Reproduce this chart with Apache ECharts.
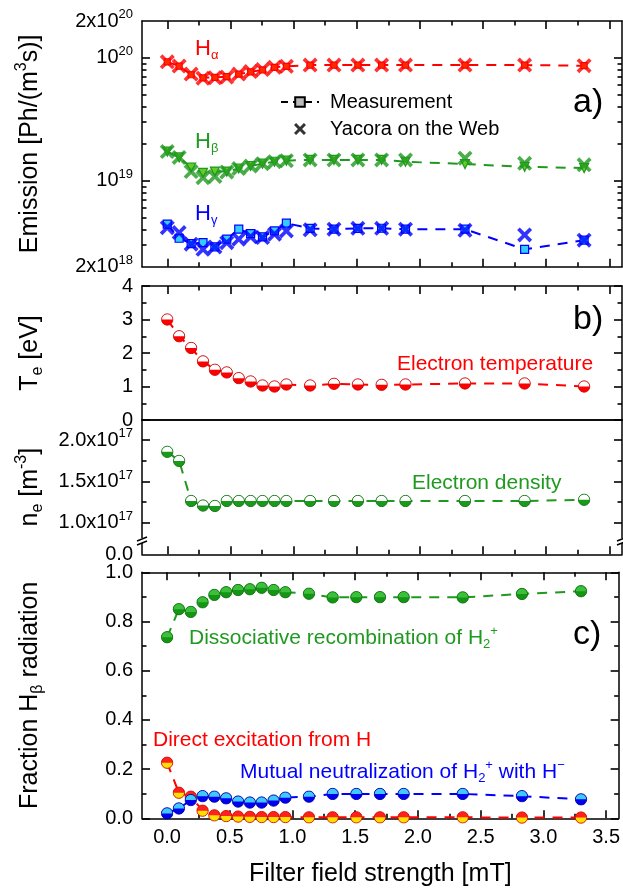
<!DOCTYPE html>
<html>
<head>
<meta charset="utf-8">
<script src="https://cdn.jsdelivr.net/npm/echarts@6/dist/echarts.min.js"></script>
<style>
  html, body { margin: 0; padding: 0; background: #fff; }
  #chart { width: 623px; height: 888px; }
</style>
</head>
<body>
<div id="chart"></div>
<script>
// filter field strength [mT]
const fieldX = [0, 0.094, 0.189, 0.283, 0.377, 0.471, 0.566, 0.66, 0.754, 0.849, 0.943, 1.131, 1.32, 1.509, 1.697, 1.886, 2.357, 2.829, 3.3]

// a) emission [Ph/(m^3 s)]
const haMeas = [9.3e19, 8.6e19, 7.3e19, 6.9e19, 6.95e19, 7.05e19, 7.4e19, 7.7e19, 8.0e19, 8.4e19, 8.55e19, 8.75e19, 8.75e19, 8.75e19, 8.75e19, 8.75e19, 8.75e19, 8.75e19, 8.65e19]
const haYacora = [9.3e19, 8.6e19, 7.4e19, 6.85e19, 6.9e19, 7.0e19, 7.4e19, 7.75e19, 8.05e19, 8.4e19, 8.55e19, 8.75e19, 8.75e19, 8.75e19, 8.75e19, 8.75e19, 8.75e19, 8.75e19, 8.65e19]
const hbMeas = [1.73e19, 1.55e19, 1.28e19, 1.16e19, 1.19e19, 1.19e19, 1.26e19, 1.32e19, 1.38e19, 1.43e19, 1.46e19, 1.48e19, 1.48e19, 1.48e19, 1.48e19, 1.43e19, 1.37e19, 1.30e19, 1.27e19]
const hbYacora = [1.73e19, 1.55e19, 1.19e19, 1.06e19, 1.085e19, 1.18e19, 1.26e19, 1.32e19, 1.38e19, 1.43e19, 1.46e19, 1.48e19, 1.48e19, 1.48e19, 1.48e19, 1.48e19, 1.53e19, 1.39e19, 1.35e19]
const hgMeas = [4.44e18, 3.41e18, 3.08e18, 3.14e18, 2.90e18, 3.35e18, 4.04e18, 3.72e18, 3.50e18, 3.91e18, 4.52e18, 4.1e18, 4.04e18, 4.1e18, 4.11e18, 4.04e18, 4.04e18, 2.77e18, 3.29e18]
const hgYacora = [4.16e18, 3.79e18, 3.05e18, 2.77e18, 2.90e18, 3.14e18, 3.35e18, 3.50e18, 3.45e18, 3.68e18, 3.91e18, 3.99e18, 4.04e18, 4.11e18, 4.11e18, 4.04e18, 3.96e18, 3.63e18, 3.29e18]

// b) electron temperature [eV] and density [1e17 m^-3]
const teValues = [3.0, 2.5, 2.15, 1.75, 1.5, 1.42, 1.25, 1.15, 1.03, 1.0, 1.06, 1.03, 1.08, 1.06, 1.05, 1.06, 1.09, 1.09, 1.0]
const neValues = [1.86, 1.75, 1.265, 1.21, 1.205, 1.265, 1.265, 1.265, 1.265, 1.265, 1.265, 1.265, 1.265, 1.265, 1.265, 1.265, 1.265, 1.265, 1.28]

// c) fraction of H_beta radiation
const fracDissoc = [0.736, 0.85, 0.839, 0.878, 0.908, 0.919, 0.928, 0.931, 0.937, 0.928, 0.919, 0.913, 0.898, 0.899, 0.899, 0.899, 0.898, 0.912, 0.923]
const fracDirect = [0.226, 0.104, 0.088, 0.031, 0.012, 0.009, 0.007, 0.006, 0.005, 0.005, 0.005, 0.004, 0.004, 0.004, 0.004, 0.004, 0.004, 0.003, 0.003]
const fracMutual = [0.02, 0.04, 0.074, 0.09, 0.088, 0.081, 0.068, 0.064, 0.064, 0.072, 0.084, 0.088, 0.099, 0.099, 0.099, 0.099, 0.099, 0.09, 0.077]

// ticks
const xMajor = [0, 0.5, 1, 1.5, 2, 2.5, 3, 3.5]
const xMinor = [0.25, 0.75, 1.25, 1.75, 2.25, 2.75, 3.25]
const emMajor = [1e19, 1e20]
const emLabels = [2.0000001e18, 1e19, 1e20, 1.9999999e20]
const emMinor = [3e18, 4e18, 5e18, 6e18, 7e18, 8e18, 9e18, 2e19, 3e19, 4e19, 5e19, 6e19, 7e19, 8e19, 9e19]
const teMajor = [0, 1, 2, 3, 4]
const teMinor = [0.5, 1.5, 2.5, 3.5]
const neZero = 0.62   // bottom of the broken axis, labelled 0.0
const neMajor = [1.0, 1.5, 2.0]
const neMinor = [1.25, 1.75]
const frMajor = [0, 0.2, 0.4, 0.6, 0.8, 1.0]
const frMinor = [0.1, 0.3, 0.5, 0.7, 0.9]

const FONT = '"Liberation Sans", Arial, sans-serif'
const RED = '#ff0000'
const GREEN = '#1f991f'
const BLUE = '#0000ff'
const DASH = [10, 8]
const MAJOR_LEN = 8
const MINOR_LEN = 4.5

const grids = [
  { left: 142, width: 480, top: 21, height: 245.7 },
  { left: 142, width: 480, top: 286, height: 134 },
  { left: 142, width: 480, top: 420, height: 134.3 },
  { left: 142, width: 480, top: 572.3, height: 246 }
]

const pts = ys => fieldX.map((x, i) => [x, ys[i]])

function tickAxis(base, ticks, len, showLine) {
  return Object.assign({}, base, {
    axisLine: { show: showLine, onZero: false, lineStyle: { color: '#000', width: 1.5 } },
    axisTick: { show: true, inside: true, length: len, customValues: ticks, lineStyle: { color: '#000', width: 1.6 } },
    axisLabel: { show: false },
    splitLine: { show: false }
  })
}

function xAxesFor(g, withLabels, bottomTicks, topTicks) {
  const base = { gridIndex: g, type: 'value', min: -0.2, max: 3.6 }
  const bottom = tickAxis(Object.assign({ position: 'bottom' }, base), bottomTicks ? xMajor : [], MAJOR_LEN, true)
  if (withLabels) {
    bottom.axisLabel = {
      show: true, customValues: xMajor, formatter: v => v.toFixed(1),
      fontSize: 20, fontFamily: FONT, color: '#000', margin: 9
    }
    bottom.name = 'Filter field strength [mT]'
    bottom.nameLocation = 'middle'
    bottom.nameGap = 43
    bottom.nameTextStyle = { fontSize: 25, fontFamily: FONT, color: '#000' }
  }
  return [
    bottom,
    tickAxis(Object.assign({ position: 'bottom' }, base), bottomTicks ? xMinor : [], MINOR_LEN, false),
    tickAxis(Object.assign({ position: 'top' }, base), topTicks ? xMajor : [], MAJOR_LEN, true),
    tickAxis(Object.assign({ position: 'top' }, base), topTicks ? xMinor : [], MINOR_LEN, false)
  ]
}

const supRich = {
  n: { fontSize: 20, fontFamily: FONT, color: '#000', lineHeight: 26 },
  sup: { fontSize: 13, fontFamily: FONT, color: '#000', lineHeight: 13, verticalAlign: 'top' }
}
const nameRich = {
  t: { fontSize: 25, fontFamily: FONT, color: '#000', lineHeight: 32 },
  sup: { fontSize: 16, fontFamily: FONT, color: '#000', lineHeight: 16, verticalAlign: 'top' },
  sub: { fontSize: 16, fontFamily: FONT, color: '#000', lineHeight: 14, verticalAlign: 'bottom' }
}

function yAxesFor(g, base, major, minor, labelCfg, name) {
  const left = tickAxis(Object.assign({ position: 'left' }, base), major, MAJOR_LEN, true)
  left.axisLabel = Object.assign({ show: true, fontSize: 20, fontFamily: FONT, color: '#000', margin: 9 }, labelCfg)
  left.name = name
  left.nameLocation = 'middle'
  left.nameRotate = 90
  left.nameGap = 96
  left.nameTextStyle = { rich: nameRich }
  return [
    left,
    tickAxis(Object.assign({ position: 'left' }, base), minor, MINOR_LEN, false),
    tickAxis(Object.assign({ position: 'right' }, base), major, MAJOR_LEN, true),
    tickAxis(Object.assign({ position: 'right' }, base), minor, MINOR_LEN, false)
  ]
}

function powLabel(v) {
  const e = Math.floor(Math.log10(v) + 1e-6)
  const m = Math.round(v / Math.pow(10, e))
  return '{n|' + (m === 1 ? '' : m + 'x') + '10}{sup|' + e + '}'
}

const xAxes = [].concat(
  xAxesFor(0, false, true, true),
  xAxesFor(1, false, false, true),
  xAxesFor(2, false, true, false),
  xAxesFor(3, true, true, true)
)

const yAxes = [].concat(
  yAxesFor(0, { gridIndex: 0, type: 'log', logBase: 10, min: 2e18, max: 2e20 }, emMajor, emMinor,
    { customValues: emLabels, formatter: powLabel, rich: supRich },
    '{t|Emission [Ph/(m}{sup|3}{t|s)]}'),
  yAxesFor(1, { gridIndex: 1, type: 'value', min: 0, max: 4 }, teMajor, teMinor,
    { customValues: teMajor, formatter: v => String(v) },
    '{t|T}{sub|e}{t| [eV]}'),
  yAxesFor(2, { gridIndex: 2, type: 'value', min: neZero, max: 2.245 }, neMajor, neMinor,
    {
      customValues: [neZero].concat(neMajor),
      formatter: v => v === neZero ? '{n|0.0}' : '{n|' + v.toFixed(1) + 'x10}{sup|17}',
      rich: supRich
    },
    '{t|n}{sub|e}{t| [m}{sup|-3}{t|]}'),
  yAxesFor(3, { gridIndex: 3, type: 'value', min: 0, max: 1 }, frMajor, frMinor,
    { customValues: frMajor, formatter: v => v.toFixed(1) },
    '{t|Fraction H}{sub|β}{t| radiation}')
)

// half filled ball symbols
function ball(top, bottom, edge) {
  const svg = '<svg xmlns="http://www.w3.org/2000/svg" width="24" height="24" viewBox="0 0 24 24">' +
    '<circle cx="12" cy="12" r="10.5" fill="' + bottom + '"/>' +
    '<path d="M1.5 12 A10.5 10.5 0 0 1 22.5 12 Z" fill="' + top + '"/>' +
    '<circle cx="12" cy="12" r="10.5" fill="none" stroke="' + edge + '" stroke-width="1.6"/></svg>'
  return 'image://data:image/svg+xml;charset=utf-8,' + encodeURIComponent(svg)
}
const CROSS = 'path://M3.5,0L10,6.5L16.5,0L20,3.5L13.5,10L20,16.5L16.5,20L10,13.5L3.5,20L0,16.5L6.5,10L0,3.5Z'

function measLine(name, ys, color, symbol, size, fill, rotate) {
  return {
    name, type: 'line', xAxisIndex: 0, yAxisIndex: 0, data: pts(ys),
    symbol, symbolSize: size, symbolRotate: rotate || 0, z: 2,
    lineStyle: { color, width: 2, type: DASH },
    itemStyle: { color: fill, borderColor: color, borderWidth: 1.2 }
  }
}
function yacora(name, ys, color) {
  return {
    name, type: 'scatter', xAxisIndex: 0, yAxisIndex: 0, data: pts(ys),
    symbol: CROSS, symbolSize: 15, z: 3, itemStyle: { color }
  }
}
function ballLine(name, g, ys, color, symbol) {
  return {
    name, type: 'line', xAxisIndex: g * 4, yAxisIndex: g * 4, data: pts(ys),
    symbol, symbolSize: 13, z: 3,
    lineStyle: { color, width: 2, type: DASH }
  }
}

const series = [
  measLine('Hα measurement', haMeas, RED, 'rect', 6, '#ffd200'),
  yacora('Hα Yacora', haYacora, RED),
  measLine('Hβ measurement', hbMeas, GREEN, 'triangle', 9, '#66cc22', 180),
  yacora('Hβ Yacora', hbYacora, GREEN),
  measLine('Hγ measurement', hgMeas, BLUE, 'rect', 8, '#33ccff'),
  yacora('Hγ Yacora', hgYacora, BLUE),
  // legend entries
  {
    name: 'Measurement', type: 'line', xAxisIndex: 0, yAxisIndex: 0, data: [],
    symbol: 'rect', symbolSize: 7,
    lineStyle: { color: '#000', width: 2, type: [7, 5] },
    itemStyle: { color: '#bbbbbb', borderColor: '#000', borderWidth: 1 }
  },
  {
    name: 'Yacora on the Web', type: 'scatter', xAxisIndex: 0, yAxisIndex: 0, data: [],
    symbol: CROSS, symbolSize: 14, itemStyle: { color: '#000' }
  },
  ballLine('Te', 1, teValues, RED, ball('#ffffff', '#ff0000', '#cc0000')),
  ballLine('ne', 2, neValues, GREEN, ball('#ffffff', '#1a9a1a', '#0f700f')),
  ballLine('Dissociative', 3, fracDissoc, GREEN, ball('#3cc03c', '#149614', '#0d6d0d')),
  ballLine('Direct', 3, fracDirect, RED, ball('#ff2020', '#ffe000', '#d00000')),
  ballLine('Mutual', 3, fracMutual, BLUE, ball('#40c8ff', '#0000f0', '#0000a0'))
]

function label(x, y, text, color, size, rich) {
  const r = {}
  Object.keys(rich || {}).forEach(k => { r[k] = Object.assign({ fill: color, fontFamily: FONT }, rich[k]) })
  return {
    type: 'text', x, y, z: 50,
    style: { text, fill: color, font: size + 'px ' + FONT, verticalAlign: 'middle', align: 'left', rich: r }
  }
}
const hRich = {
  m: { fontSize: 22, lineHeight: 26 },
  s: { fontSize: 13, lineHeight: 12, verticalAlign: 'bottom' }
}
const annRich = {
  m: { fontSize: 21, lineHeight: 26 },
  s: { fontSize: 13, lineHeight: 12, verticalAlign: 'bottom' },
  p: { fontSize: 13, lineHeight: 12, verticalAlign: 'top' }
}

const graphic = [
  label(195, 49, '{m|H}{s|α}', RED, 22, hRich),
  label(195, 142, '{m|H}{s|β}', GREEN, 22, hRich),
  label(195, 214, '{m|H}{s|γ}', BLUE, 22, hRich),
  label(573, 103, 'a)', '#000', 34),
  label(573, 320, 'b)', '#000', 34),
  label(573, 635, 'c)', '#000', 34),
  label(397, 364, 'Electron temperature', RED, 21),
  label(412, 483, 'Electron density', GREEN, 21),
  label(189, 638, '{m|Dissociative recombination of H}{s|2}{p|+}', GREEN, 21, annRich),
  label(153, 740, 'Direct excitation from H', RED, 21),
  label(240, 772, '{m|Mutual neutralization of H}{s|2}{p|+}{m| with H}{p|−}', BLUE, 21, annRich),
  // axis break marks on the density axis
  { type: 'rect', shape: { x: 138, y: 538, width: 8, height: 5 }, style: { fill: '#fff' }, z: 60 },
  { type: 'line', shape: { x1: 137, y1: 541, x2: 147, y2: 537 }, style: { stroke: '#000', lineWidth: 1.5 }, z: 61 },
  { type: 'line', shape: { x1: 137, y1: 545, x2: 147, y2: 541 }, style: { stroke: '#000', lineWidth: 1.5 }, z: 61 },
  { type: 'rect', shape: { x: 618, y: 538, width: 5, height: 5 }, style: { fill: '#fff' }, z: 60 },
  { type: 'line', shape: { x1: 617, y1: 541, x2: 627, y2: 537 }, style: { stroke: '#000', lineWidth: 1.5 }, z: 61 },
  { type: 'line', shape: { x1: 617, y1: 545, x2: 627, y2: 541 }, style: { stroke: '#000', lineWidth: 1.5 }, z: 61 }
]

const chart = echarts.init(document.getElementById('chart'), null, { renderer: 'canvas' })
chart.setOption({
  backgroundColor: '#fff',
  animation: false,
  textStyle: { fontFamily: FONT },
  grid: grids,
  xAxis: xAxes,
  yAxis: yAxes,
  legend: {
    data: ['Measurement', 'Yacora on the Web'],
    orient: 'vertical', left: 275, top: 87,
    itemWidth: 38, itemHeight: 12, itemGap: 7,
    selectedMode: false,
    textStyle: { fontSize: 20, fontFamily: FONT, color: '#000', lineHeight: 20, padding: [0, 0, 0, 6] }
  },
  series,
  graphic
})
</script>
</body>
</html>
